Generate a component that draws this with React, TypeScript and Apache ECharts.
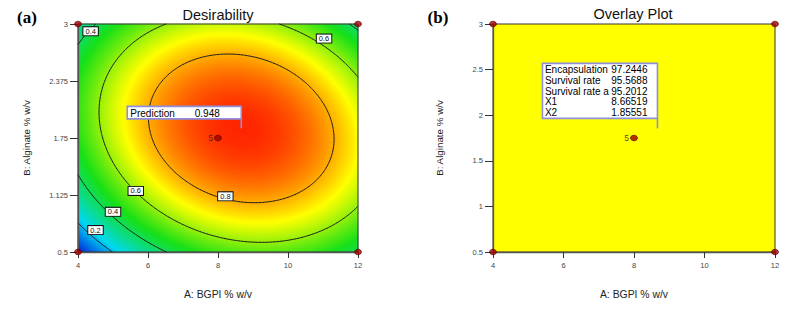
import React, { useEffect, useRef } from 'react';
import * as echarts from 'echarts';

// ---------- data ----------
const xTicks = [4, 6, 8, 10, 12];
const yTicksA = [0.5, 1.125, 1.75, 2.375, 3];
const yTicksB = [0.5, 1, 1.5, 2, 2.5, 3];
const xRange = [4, 12];
const yRange = [0.5, 3];

// design points (A, B) and replicate labels
const designX = [4, 4, 12, 12, 8];
const designY = [0.5, 3, 3, 0.5, 1.75];
const designLabels = ['', '', '', '', '5'];

// fitted desirability surface, estimated from the drawn contours
const optimum = [8.66519, 1.85551];
const peakDesirability = 0.948;
const curvature = [0.0215, 0.2275, 0.02]; // A², B², AB
const flattening = [0.4, 0.85];
const contourLevels = [0.2, 0.4, 0.6, 0.8];

// contour labels
const contourLabelText = ['0.4', '0.6', '0.6', '0.4', '0.2', '0.8'];
const contourLabelX = [4.36, 11.03, 5.65, 5.0, 4.5, 8.21];
const contourLabelY = [2.92, 2.84, 1.17, 0.94, 0.74, 1.11];

// flags
const predictionNames = ['Prediction'];
const predictionValues = ['0.948'];
const overlayNames = ['Encapsulation', 'Survival rate', 'Survival rate a', 'X1', 'X2'];
const overlayValues = ['97.2446', '95.5688', '95.2012', '8.66519', '1.85551'];

const desirabilityColors = ['#0000d8', '#00d8f0', '#18e018', '#ffff00', '#ff2600'];

// ---------- helpers ----------
const FONT = '"Liberation Sans", Arial, Helvetica, sans-serif';

function desirability(x: number, y: number) {
  const dx = x - optimum[0];
  const dy = y - optimum[1];
  const q = curvature[0] * dx * dx + curvature[1] * dy * dy + curvature[2] * dx * dy;
  const drop = q <= flattening[0] ? q : flattening[0] + flattening[1] * (q - flattening[0]);
  return Math.max(0, peakDesirability - drop);
}

const NX = 140;
const NY = 114;
const xCats: string[] = [];
const yCats: string[] = [];
for (let i = 0; i < NX; i++) xCats.push(String(i));
for (let j = 0; j < NY; j++) yCats.push(String(j));
const heatData: number[][] = [];
for (let j = 0; j < NY; j++) {
  const yc = yRange[0] + ((j + 0.5) / NY) * (yRange[1] - yRange[0]);
  for (let i = 0; i < NX; i++) {
    const xc = xRange[0] + ((i + 0.5) / NX) * (xRange[1] - xRange[0]);
    heatData.push([i, j, desirability(xc, yc)]);
  }
}

function buildContours(level: number): number[][][] {
  const nx = 201;
  const ny = 161;
  const xs: number[] = [];
  const ys: number[] = [];
  for (let i = 0; i < nx; i++) xs.push(xRange[0] + ((xRange[1] - xRange[0]) * i) / (nx - 1));
  for (let j = 0; j < ny; j++) ys.push(yRange[0] + ((yRange[1] - yRange[0]) * j) / (ny - 1));
  const v: number[][] = [];
  for (let j = 0; j < ny; j++) {
    const row: number[] = [];
    for (let i = 0; i < nx; i++) row.push(desirability(xs[i], ys[j]));
    v.push(row);
  }
  const pts = new Map<string, number[]>();
  const adj = new Map<string, string[]>();
  const addPt = (key: string, xa: number, ya: number, va: number, xb: number, yb: number, vb: number) => {
    if (!pts.has(key)) {
      const t = (level - va) / (vb - va);
      pts.set(key, [xa + t * (xb - xa), ya + t * (yb - ya)]);
    }
  };
  const link = (a: string, b: string) => {
    if (!adj.has(a)) adj.set(a, []);
    if (!adj.has(b)) adj.set(b, []);
    adj.get(a)!.push(b);
    adj.get(b)!.push(a);
  };
  for (let j = 0; j < ny - 1; j++) {
    for (let i = 0; i < nx - 1; i++) {
      const a = v[j][i];
      const b = v[j][i + 1];
      const c = v[j + 1][i + 1];
      const d = v[j + 1][i];
      const keys: string[] = [];
      if (a >= level !== b >= level) {
        const k = `h${i},${j}`;
        addPt(k, xs[i], ys[j], a, xs[i + 1], ys[j], b);
        keys.push(k);
      }
      if (b >= level !== c >= level) {
        const k = `v${i + 1},${j}`;
        addPt(k, xs[i + 1], ys[j], b, xs[i + 1], ys[j + 1], c);
        keys.push(k);
      }
      if (d >= level !== c >= level) {
        const k = `h${i},${j + 1}`;
        addPt(k, xs[i], ys[j + 1], d, xs[i + 1], ys[j + 1], c);
        keys.push(k);
      }
      if (a >= level !== d >= level) {
        const k = `v${i},${j}`;
        addPt(k, xs[i], ys[j], a, xs[i], ys[j + 1], d);
        keys.push(k);
      }
      if (keys.length === 2) link(keys[0], keys[1]);
      else if (keys.length === 4) {
        link(keys[0], keys[1]);
        link(keys[2], keys[3]);
      }
    }
  }
  const visited = new Set<string>();
  const lines: number[][][] = [];
  const starts = Array.from(adj.keys()).sort((p, q) => adj.get(p)!.length - adj.get(q)!.length);
  for (const s of starts) {
    if (visited.has(s)) continue;
    visited.add(s);
    const line = [pts.get(s)!];
    let cur = s;
    while (true) {
      const nxt = adj.get(cur)!.find((k) => !visited.has(k));
      if (!nxt) {
        if (line.length > 2 && adj.get(cur)!.includes(s)) line.push(pts.get(s)!);
        break;
      }
      visited.add(nxt);
      line.push(pts.get(nxt)!);
      cur = nxt;
    }
    lines.push(line);
  }
  return lines;
}

const contourLines: number[][][] = [];
contourLevels.forEach((lv) => buildContours(lv).forEach((l) => contourLines.push(l)));

// ---------- option ----------
function valueXAxis(gridIndex: number) {
  return {
    gridIndex,
    type: 'value',
    min: xRange[0],
    max: xRange[1],
    interval: 2,
    z: 5,
    name: 'A: BGPI % w/v',
    nameLocation: 'middle',
    nameGap: 37,
    nameTextStyle: { fontSize: 10.4, color: '#222', fontFamily: FONT },
    axisLine: { show: true, onZero: false, lineStyle: { color: '#555', width: 1.3 } },
    axisTick: { show: true, length: 6, customValues: xTicks, lineStyle: { color: '#333', width: 1 } },
    axisLabel: { fontSize: 7.5, color: '#444', margin: 9, fontFamily: FONT, customValues: xTicks },
    splitLine: { show: false },
  };
}

function valueYAxis(gridIndex: number, ticks: number[], gap: number) {
  return {
    gridIndex,
    type: 'value',
    min: yRange[0],
    max: yRange[1],
    z: 5,
    name: 'B: Alginate % w/v',
    nameLocation: 'middle',
    nameGap: gap,
    nameTextStyle: { fontSize: 9.8, color: '#222', fontFamily: FONT },
    axisLine: { show: true, onZero: false, lineStyle: { color: '#555', width: 1.3 } },
    axisTick: { show: true, length: 8, customValues: ticks, lineStyle: { color: '#333', width: 1 } },
    axisLabel: { fontSize: 7.5, color: '#444', margin: 10, fontFamily: FONT, customValues: ticks },
    splitLine: { show: false },
  };
}

function designSeries(xAxisIndex: number) {
  return {
    type: 'scatter',
    xAxisIndex,
    yAxisIndex: xAxisIndex,
    z: 8,
    symbol: 'circle',
    symbolSize: [7, 5.5],
    itemStyle: { color: '#a00000', borderColor: '#5a0000', borderWidth: 0.8 },
    label: {
      show: true,
      position: 'left',
      distance: 1,
      formatter: (p: any) => p.value[2],
      fontSize: 8.5,
      color: '#222',
      fontFamily: FONT,
    },
    emphasis: { disabled: true },
    data: designX.map((x, i) => [x, designY[i], designLabels[i]]),
  };
}

const FLAG_COLOR = '#8f8fdf';

function buildOption(): any {
  return {
    animation: false,
    backgroundColor: '#ffffff',
    grid: [
      { left: 78, top: 24, width: 280, height: 228, show: false },
      {
        left: 78,
        top: 24,
        width: 280,
        height: 228,
        show: true,
        z: 3,
        backgroundColor: 'transparent',
        borderColor: '#333',
        borderWidth: 1,
      },
      {
        left: 493,
        top: 24,
        width: 282,
        height: 228,
        show: true,
        backgroundColor: '#ffff00',
        borderColor: '#333',
        borderWidth: 1,
      },
    ],
    xAxis: [
      { gridIndex: 0, type: 'category', data: xCats, show: false, boundaryGap: true },
      valueXAxis(1),
      valueXAxis(2),
    ],
    yAxis: [
      { gridIndex: 0, type: 'category', data: yCats, show: false, boundaryGap: true },
      valueYAxis(1, yTicksA, 47),
      { ...valueYAxis(2, yTicksB, 49), interval: 0.5 },
    ],
    visualMap: {
      type: 'continuous',
      show: false,
      seriesIndex: 0,
      dimension: 2,
      min: 0,
      max: peakDesirability,
      inRange: { color: desirabilityColors },
    },
    graphic: [
      {
        type: 'text',
        x: 27,
        y: 17,
        style: {
          text: '(a)',
          fontSize: 17,
          fontWeight: 'bold',
          fontFamily: '"Liberation Serif", "Times New Roman", serif',
          fill: '#000',
          align: 'center',
          verticalAlign: 'middle',
        },
      },
      {
        type: 'text',
        x: 438,
        y: 17,
        style: {
          text: '(b)',
          fontSize: 17,
          fontWeight: 'bold',
          fontFamily: '"Liberation Serif", "Times New Roman", serif',
          fill: '#000',
          align: 'center',
          verticalAlign: 'middle',
        },
      },
      {
        type: 'text',
        x: 218,
        y: 15,
        style: { text: 'Desirability', fontSize: 14.5, fontFamily: FONT, fill: '#111', align: 'center', verticalAlign: 'middle' },
      },
      {
        type: 'text',
        x: 633,
        y: 14,
        style: { text: 'Overlay Plot', fontSize: 14.5, fontFamily: FONT, fill: '#111', align: 'center', verticalAlign: 'middle' },
      },
    ],
    series: [
      {
        type: 'heatmap',
        xAxisIndex: 0,
        yAxisIndex: 0,
        progressive: 0,
        z: 1,
        itemStyle: { borderWidth: 0 },
        emphasis: { disabled: true },
        data: heatData,
      },
      {
        type: 'custom',
        xAxisIndex: 1,
        yAxisIndex: 1,
        z: 6,
        progressive: 0,
        renderItem: (_params: any, api: any) => {
          const line = contourLines[api.value(2)];
          return {
            type: 'polyline',
            shape: { points: line.map((p) => api.coord(p)) },
            style: { stroke: '#1a1a1a', lineWidth: 1, fill: 'none' },
          };
        },
        data: contourLines.map((l, i) => [l[0][0], l[0][1], i]),
      },
      {
        type: 'custom',
        xAxisIndex: 1,
        yAxisIndex: 1,
        z: 7,
        renderItem: (_params: any, api: any) => {
          const p = api.coord([api.value(0), api.value(1)]);
          return {
            type: 'text',
            x: p[0],
            y: p[1],
            style: {
              text: contourLabelText[api.value(2)],
              fontSize: 7.5,
              lineHeight: 8,
              fontFamily: FONT,
              fill: '#111',
              align: 'center',
              verticalAlign: 'middle',
              backgroundColor: '#ffffff',
              borderColor: '#111',
              borderWidth: 1,
              padding: [0, 2, 0, 2],
            },
          };
        },
        data: contourLabelX.map((x, i) => [x, contourLabelY[i], i]),
      },
      designSeries(1),
      designSeries(2),
      {
        type: 'custom',
        xAxisIndex: 1,
        yAxisIndex: 1,
        z: 9,
        renderItem: (_params: any, api: any) => {
          const p = api.coord([api.value(0), api.value(1)]);
          const w = 114;
          const h = 12.5;
          const right = p[0];
          const bottom = p[1] - 9.5;
          const left = right - w;
          const top = bottom - h;
          return {
            type: 'group',
            children: [
              { type: 'line', shape: { x1: right, y1: bottom, x2: right, y2: p[1] }, style: { stroke: FLAG_COLOR, lineWidth: 1.6 } },
              { type: 'rect', shape: { x: left, y: top, width: w, height: h }, style: { fill: '#fff', stroke: FLAG_COLOR, lineWidth: 1.6 } },
              {
                type: 'text',
                x: left + 3,
                y: top + h / 2 + 0.5,
                style: { text: predictionNames[0], fontSize: 10, fontFamily: FONT, fill: '#000', align: 'left', verticalAlign: 'middle' },
              },
              {
                type: 'text',
                x: left + 67.5,
                y: top + h / 2 + 0.5,
                style: { text: predictionValues[0], fontSize: 10, fontFamily: FONT, fill: '#000', align: 'left', verticalAlign: 'middle' },
              },
            ],
          };
        },
        data: [[optimum[0], optimum[1]]],
      },
      {
        type: 'custom',
        xAxisIndex: 2,
        yAxisIndex: 2,
        z: 9,
        renderItem: (_params: any, api: any) => {
          const p = api.coord([api.value(0), api.value(1)]);
          const w = 115;
          const h = 55;
          const right = p[0];
          const bottom = p[1] - 10;
          const left = right - w;
          const top = bottom - h;
          const children: any[] = [
            { type: 'line', shape: { x1: right, y1: bottom, x2: right, y2: p[1] }, style: { stroke: FLAG_COLOR, lineWidth: 1.6 } },
            { type: 'rect', shape: { x: left, y: top, width: w, height: h }, style: { fill: '#fff', stroke: FLAG_COLOR, lineWidth: 1.6 } },
          ];
          overlayNames.forEach((name, k) => {
            const ty = top + 6.5 + k * 10.65;
            children.push({
              type: 'text',
              x: left + 2.5,
              y: ty,
              style: { text: name, fontSize: 10, fontFamily: FONT, fill: '#000', align: 'left', verticalAlign: 'middle' },
            });
            children.push({
              type: 'text',
              x: right - 10,
              y: ty,
              style: { text: overlayValues[k], fontSize: 10, fontFamily: FONT, fill: '#000', align: 'right', verticalAlign: 'middle' },
            });
          });
          return { type: 'group', children };
        },
        data: [[optimum[0], optimum[1]]],
      },
    ],
  };
}

export default function App() {
  const ref = useRef<HTMLDivElement>(null);
  useEffect(() => {
    document.body.style.margin = '0';
    const chart = echarts.init(ref.current as HTMLDivElement, null, { renderer: 'svg' });
    chart.setOption(buildOption());
    return () => chart.dispose();
  }, []);
  return <div ref={ref} style={{ width: 793, height: 314, background: '#ffffff' }} />;
}
